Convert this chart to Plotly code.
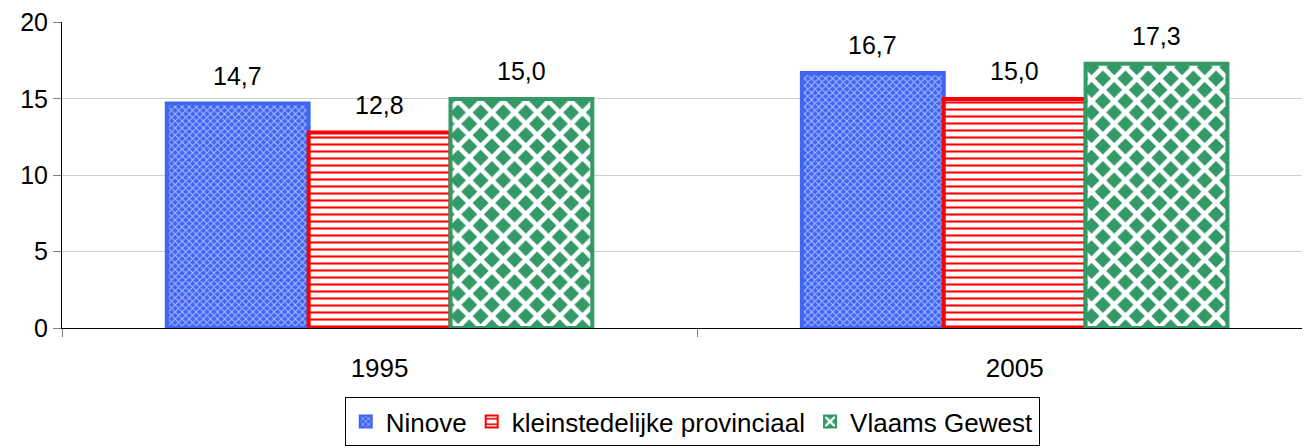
import plotly.graph_objects as go

categories = ["1995", "2005"]
series_names = ["Ninove", "kleinstedelijke provinciaal", "Vlaams Gewest"]
ninove = [14.7, 16.7]
klein = [12.8, 15.0]
vlaams = [15.0, 17.3]
y_ticks = [0, 5, 10, 15, 20]

values = [ninove, klein, vlaams]
colors = ["#3f66f2", "#ff0000", "#339966"]
patterns = [
    dict(shape="x", fgcolor="#b0bfff", bgcolor="#3f66f2", size=5, solidity=0.35, fillmode="replace"),
    dict(shape="-", fgcolor="#ff0000", bgcolor="#ffffff", size=7, solidity=0.3, fillmode="replace"),
    dict(shape="x", fgcolor="#ffffff", bgcolor="#339966", size=16, solidity=0.5, fillmode="replace"),
]

FONT = "Liberation Sans, Arial"
bargap = 0.33
fig = go.Figure()
for name, vals, col, pat in zip(series_names, values, colors, patterns):
    fig.add_trace(go.Bar(
        name=name, x=categories, y=vals,
        marker=dict(color=col, pattern=pat, line=dict(color=col, width=4)),
    ))

w = (1 - bargap) / 3
annotations = []
for i, vals in enumerate(values):
    for j, v in enumerate(vals):
        annotations.append(dict(
            x=j + (i - 1) * w, y=v, xref="x", yref="y",
            text=f"{v:.1f}".replace(".", ","), showarrow=False,
            yshift=28, font=dict(family=FONT, size=25, color="black"),
        ))

fig.update_layout(
    width=1302, height=440,
    margin=dict(l=54, r=0, t=14, b=120),
    paper_bgcolor="white", plot_bgcolor="white",
    barmode="group", bargap=bargap, bargroupgap=0,
    font=dict(family=FONT, size=25, color="black"),
    showlegend=True,
    legend=dict(orientation="h", x=0.505, xanchor="center", y=-0.386, yanchor="bottom",
                bordercolor="black", borderwidth=1, font=dict(size=26),
                itemwidth=30, tracegroupgap=0, itemsizing="constant"),
    annotations=annotations,
    xaxis=dict(type="category", range=[-0.5, 1.465], showline=True, linecolor="black", linewidth=1,
               ticks="outside", tickson="boundaries", ticklen=8, tickcolor="#808080",
               showgrid=False, ticklabelstandoff=17, tickfont=dict(size=26)),
    yaxis=dict(range=[0, 20.04], tickvals=y_ticks, showline=True, linecolor="black", linewidth=1,
               ticks="outside", ticklen=8, tickcolor="#808080", gridcolor="#d0d0d0",
               zeroline=False, tickfont=dict(size=25), ticklabeloverflow="allow"),
)

fig.write_html("out.html")
